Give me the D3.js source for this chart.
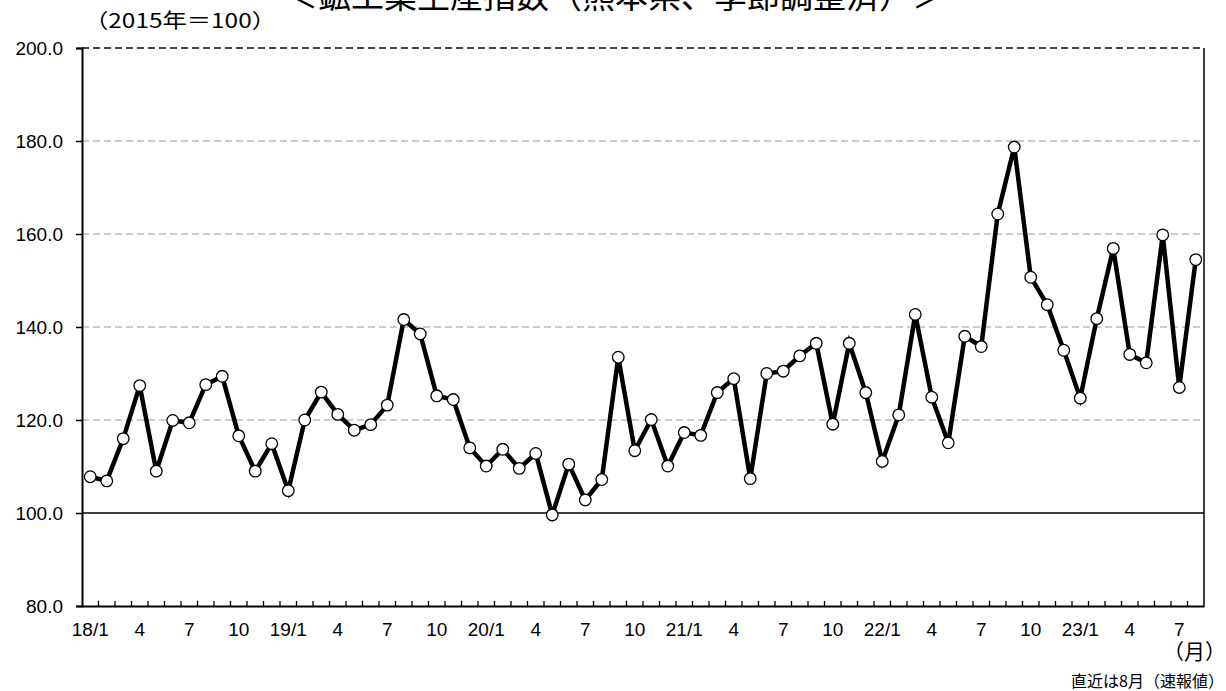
<!DOCTYPE html>
<meta charset="utf-8">
<style>
    body { margin: 0; background: white; }
    svg { display: block; font-family: "Noto Sans CJK JP", "Noto Sans", sans-serif; }
</style>
<svg width="1226" height="691"></svg>
<script src="https://d3js.org/d3.v7.min.js"></script>
<script>
    // months (yy/m) and index values, 2015 = 100
    var months = [
        "18/1", "18/2", "18/3", "18/4", "18/5", "18/6", "18/7", "18/8", "18/9", "18/10", "18/11", "18/12",
        "19/1", "19/2", "19/3", "19/4", "19/5", "19/6", "19/7", "19/8", "19/9", "19/10", "19/11", "19/12",
        "20/1", "20/2", "20/3", "20/4", "20/5", "20/6", "20/7", "20/8", "20/9", "20/10", "20/11", "20/12",
        "21/1", "21/2", "21/3", "21/4", "21/5", "21/6", "21/7", "21/8", "21/9", "21/10", "21/11", "21/12",
        "22/1", "22/2", "22/3", "22/4", "22/5", "22/6", "22/7", "22/8", "22/9", "22/10", "22/11", "22/12",
        "23/1", "23/2", "23/3", "23/4", "23/5", "23/6", "23/7", "23/8"
    ];

    var values = [
        107.8, 106.9, 116.0, 127.4, 109.0, 119.9, 119.4, 127.6, 129.4, 116.6, 109.0, 114.9,
        104.8, 120.0, 126.0, 121.2, 117.8, 119.0, 123.2, 141.6, 138.5, 125.2, 124.4, 114.0,
        110.1, 113.7, 109.6, 112.8, 99.6, 110.5, 102.8, 107.2, 133.5, 113.4, 120.1, 110.1,
        117.3, 116.7, 125.9, 128.9, 107.4, 130.0, 130.5, 133.8, 136.5, 119.1, 136.5, 125.9,
        111.1, 121.1, 142.7, 124.9, 115.1, 138.0, 135.8, 164.3, 178.7, 150.7, 144.8, 135.0,
        124.7, 141.8, 156.9, 134.1, 132.3, 159.8, 127.0, 154.5
    ];

    var yTicks = [80, 100, 120, 140, 160, 180, 200];
    var labelMonths = ["1", "4", "7", "10"];

    var svg = d3.select("svg"),
        plotLeft = 82,
        plotRight = 1204,
        plotTop = 48,
        plotBottom = 606;

    var x = d3.scaleBand()
        .domain(months)
        .range([plotLeft, plotRight]);

    var y = d3.scaleLinear()
        .domain([80, 200])
        .range([plotBottom, plotTop]);

    // grid lines
    svg.append("g")
        .selectAll("line")
        .data(yTicks.filter(function(d) { return d > 80; }))
        .enter().append("line")
        .attr("x1", plotLeft)
        .attr("x2", plotRight)
        .attr("y1", function(d) { return y(d); })
        .attr("y2", function(d) { return y(d); })
        .style("stroke", function(d) { return d == 100 ? "#000" : (d == 200 ? "#444" : "#999"); })
        .style("stroke-width", function(d) { return d == 100 ? 1.5 : (d == 200 ? 2 : 1.2); })
        .style("stroke-dasharray", function(d) { return d == 100 ? null : "7,4"; });

    // right border
    svg.append("line")
        .attr("x1", plotRight).attr("x2", plotRight)
        .attr("y1", plotTop).attr("y2", plotBottom)
        .style("stroke", "#000")
        .style("stroke-width", 1.5);

    // y axis
    var yAxis = svg.append("g")
        .attr("transform", "translate(" + plotLeft + ",0)")
        .call(d3.axisLeft(y)
            .tickValues(yTicks)
            .tickSize(6)
            .tickPadding(13)
            .tickFormat(d3.format(".1f")));

    yAxis.select(".domain").attr("stroke-width", 2);
    yAxis.selectAll(".tick line").attr("stroke-width", 1.5);
    yAxis.selectAll("text")
        .style("font-size", "19px")
        .style("fill", "#000");

    // x axis
    var xAxis = svg.append("g")
        .attr("transform", "translate(0," + plotBottom + ")")
        .call(d3.axisBottom(x)
            .tickSize(0)
            .tickPadding(17)
            .tickFormat(function(d) {
                var parts = d.split("/");
                if (labelMonths.indexOf(parts[1]) < 0) return "";
                return parts[1] == "1" ? d : parts[1];
            }));

    xAxis.select(".domain").attr("stroke-width", 2);
    xAxis.selectAll("text")
        .style("font-size", "19px")
        .style("fill", "#000");

    // small ticks between months
    svg.append("g")
        .selectAll("line")
        .data(months.slice(1))
        .enter().append("line")
        .attr("x1", function(d) { return x(d); })
        .attr("x2", function(d) { return x(d); })
        .attr("y1", plotBottom)
        .attr("y2", plotBottom - 5)
        .style("stroke", "#000")
        .style("stroke-width", 1.3);

    // series line
    var line = d3.line()
        .x(function(d, i) { return x(months[i]) + x.bandwidth() / 2; })
        .y(function(d) { return y(d); });

    svg.append("path")
        .datum(values)
        .attr("d", line)
        .style("fill", "none")
        .style("stroke", "#000")
        .style("stroke-width", 4.5)
        .style("stroke-linejoin", "miter");

    svg.append("g")
        .selectAll("circle")
        .data(values)
        .enter().append("circle")
        .attr("cx", function(d, i) { return x(months[i]) + x.bandwidth() / 2; })
        .attr("cy", function(d) { return y(d); })
        .attr("r", 5.8)
        .style("fill", "#fff")
        .style("stroke", "#000")
        .style("stroke-width", 1.3);

    // texts
    svg.append("text")
        .attr("x", 615)
        .attr("y", 8)
        .attr("text-anchor", "middle")
        .style("font-size", "33px")
        .text("＜鉱工業生産指数（熊本県、季節調整済）＞");

    svg.append("text")
        .attr("x", 84)
        .attr("y", 28)
        .attr("textLength", 192)
        .attr("lengthAdjust", "spacingAndGlyphs")
        .style("font-size", "20px")
        .text("（2015年＝100）");

    svg.append("text")
        .attr("x", 1226)
        .attr("y", 659)
        .attr("text-anchor", "end")
        .style("font-size", "21px")
        .text("（月）");

    svg.append("text")
        .attr("x", 1224)
        .attr("y", 687)
        .attr("text-anchor", "end")
        .style("font-size", "16px")
        .text("直近は8月（速報値）");
</script>
